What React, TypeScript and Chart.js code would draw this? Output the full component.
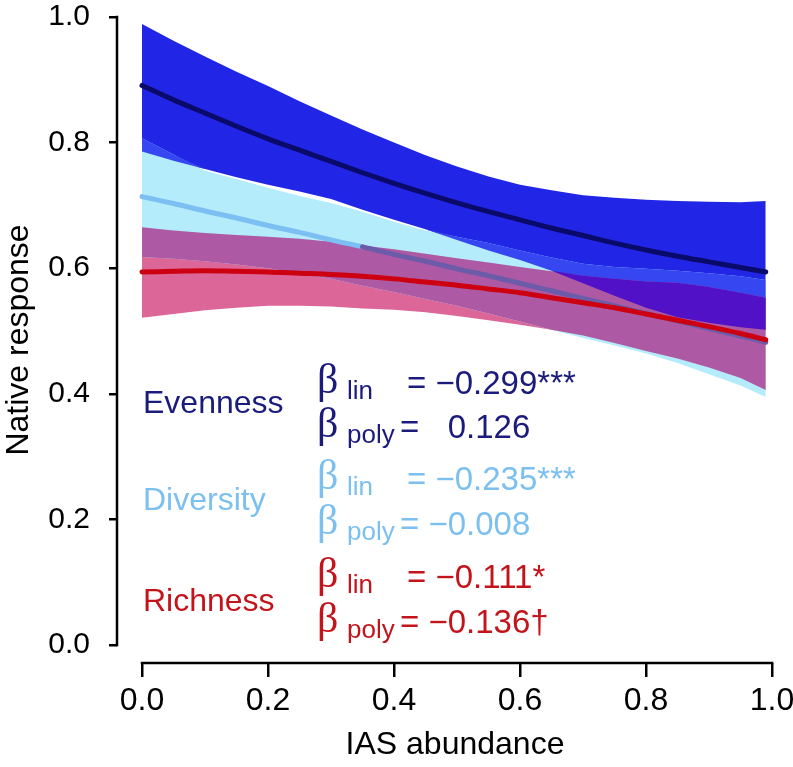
import React, { useEffect, useRef } from "react";
import { Chart, registerables } from "chart.js";

Chart.register(...registerables);

// ---------------- data ----------------
const X_GRID = [0, 0.05, 0.1, 0.15, 0.2, 0.25, 0.3, 0.35, 0.4, 0.45, 0.5, 0.55, 0.6, 0.65, 0.7, 0.75, 0.8, 0.85, 0.9, 0.95, 0.99];

const EVENNESS_FIT = [0.891, 0.868, 0.847, 0.826, 0.806, 0.788, 0.770, 0.752, 0.735, 0.719, 0.704, 0.690, 0.677, 0.664, 0.652, 0.640, 0.629, 0.619, 0.610, 0.601, 0.594];
const EVENNESS_UPPER = [0.989, 0.962, 0.937, 0.913, 0.890, 0.866, 0.843, 0.821, 0.800, 0.780, 0.762, 0.746, 0.733, 0.724, 0.716, 0.712, 0.709, 0.707, 0.706, 0.705, 0.707];
const EVENNESS_LOWER = [0.786, 0.771, 0.758, 0.745, 0.733, 0.722, 0.710, 0.693, 0.677, 0.662, 0.645, 0.628, 0.613, 0.596, 0.576, 0.556, 0.537, 0.522, 0.513, 0.506, 0.502];

const DIVERSITY_FIT = [0.714, 0.703, 0.691, 0.680, 0.668, 0.657, 0.645, 0.634, 0.622, 0.611, 0.599, 0.588, 0.576, 0.564, 0.552, 0.540, 0.528, 0.516, 0.504, 0.492, 0.482];
const DIVERSITY_UPPER = [0.807, 0.781, 0.755, 0.742, 0.728, 0.715, 0.704, 0.690, 0.674, 0.660, 0.650, 0.640, 0.628, 0.617, 0.607, 0.602, 0.599, 0.596, 0.592, 0.587, 0.581];
const DIVERSITY_LOWER = [0.618, 0.615, 0.611, 0.606, 0.600, 0.592, 0.583, 0.572, 0.562, 0.551, 0.540, 0.528, 0.515, 0.502, 0.489, 0.477, 0.464, 0.449, 0.431, 0.413, 0.395];

const RICHNESS_FIT = [0.594, 0.595, 0.596, 0.595, 0.594, 0.592, 0.590, 0.587, 0.583, 0.578, 0.573, 0.567, 0.561, 0.553, 0.545, 0.537, 0.527, 0.517, 0.507, 0.496, 0.486];
const RICHNESS_UPPER = [0.665, 0.660, 0.656, 0.653, 0.650, 0.647, 0.642, 0.636, 0.630, 0.623, 0.616, 0.609, 0.602, 0.595, 0.588, 0.583, 0.579, 0.577, 0.570, 0.561, 0.553];
const RICHNESS_LOWER = [0.521, 0.527, 0.533, 0.537, 0.540, 0.540, 0.539, 0.536, 0.534, 0.530, 0.524, 0.517, 0.510, 0.502, 0.493, 0.481, 0.468, 0.456, 0.442, 0.425, 0.406];

const X_TICKS = [0, 0.2, 0.4, 0.6, 0.8, 1.0];
const X_TICK_LABELS = ["0.0", "0.2", "0.4", "0.6", "0.8", "1.0"];
const Y_TICKS = [0, 0.2, 0.4, 0.6, 0.8, 1.0];
const Y_TICK_LABELS = ["0.0", "0.2", "0.4", "0.6", "0.8", "1.0"];

const X_TITLE = "IAS abundance";
const Y_TITLE = "Native response";

const GROUP_NAMES = ["Evenness", "Diversity", "Richness"];
const BETA_LIN = ["\u22120.299***", "\u22120.235***", "\u22120.111*"];
const BETA_POLY = ["0.126", "\u22120.008", "\u22120.136\u2020"];

// ---------------- styles ----------------
const SANS = '"Liberation Sans", Arial, Helvetica, sans-serif';
const SERIF = '"Liberation Serif", "Times New Roman", serif';

const C_EVEN_BAND = "#2126e6";
const C_EVEN_DIV = "#3646f0";
const C_DIV_BAND = "#b4ecfb";
const C_RICH_BAND = "#dd6699";
const C_RICH_DIV = "#ae59a4";
const C_RICH_EVEN = "#5011c7";
const C_EVEN_LINE = "#0a0a6a";
const C_DIV_LINE = "#7cbff2";
const C_DIV_LINE_MUTED = "#6c5ba8";
const C_RICH_LINE = "#cc0010";
const GROUP_TEXT_COLORS = ["#1b1b7e", "#7cc0ef", "#c3141b"];

// annotation layout (pixels)
const LABEL_X = 143;
const LABEL_BASELINES = [413, 510, 611];
const LIN_BASELINES = [394, 490, 588];
const POLY_BASELINES = [438, 535, 633];
const BETA_X = 317;
const SUB_X = 347;
const LIN_EQ_X = 407;
const POLY_EQ_X = 400;

function pts(ys: number[]) {
  return X_GRID.map((x, i) => ({ x, y: ys[i] }));
}
function overlapLow(a: number[], b: number[]) {
  return a.map((v, i) => Math.max(v, b[i]));
}
function overlapHigh(lo: number[], ua: number[], ub: number[]) {
  return lo.map((v, i) => Math.max(v, Math.min(ua[i], ub[i])));
}

const axisLinesPlugin = {
  id: "axisLines",
  afterDraw(chart: any) {
    const { ctx, chartArea, scales } = chart;
    const x = scales.x;
    const y = scales.y;
    ctx.save();
    ctx.strokeStyle = "#000";
    ctx.lineWidth = 2.5;
    ctx.lineCap = "square";
    ctx.beginPath();
    ctx.moveTo(chartArea.left, y.getPixelForValue(Y_TICKS[0]));
    ctx.lineTo(chartArea.left, y.getPixelForValue(Y_TICKS[Y_TICKS.length - 1]));
    ctx.moveTo(x.getPixelForValue(X_TICKS[0]), chartArea.bottom);
    ctx.lineTo(x.getPixelForValue(X_TICKS[X_TICKS.length - 1]), chartArea.bottom);
    ctx.stroke();
    ctx.restore();
  },
};

const annotationPlugin = {
  id: "annotations",
  afterDraw(chart: any) {
    const ctx = chart.ctx;
    ctx.save();
    ctx.textAlign = "left";
    ctx.textBaseline = "alphabetic";
    GROUP_NAMES.forEach((name, g) => {
      ctx.fillStyle = GROUP_TEXT_COLORS[g];
      ctx.font = `32px ${SANS}`;
      ctx.fillText(name, LABEL_X, LABEL_BASELINES[g]);
      const rows = [
        { sub: "lin", val: BETA_LIN[g], y: LIN_BASELINES[g], eqX: LIN_EQ_X },
        { sub: "poly", val: BETA_POLY[g], y: POLY_BASELINES[g], eqX: POLY_EQ_X },
      ];
      rows.forEach((r) => {
        ctx.font = `42px ${SERIF}`;
        ctx.fillText("\u03B2", BETA_X, r.y - 1);
        ctx.font = `26px ${SANS}`;
        ctx.fillText(r.sub, SUB_X, r.y + 5);
        ctx.font = `33px ${SANS}`;
        ctx.fillText("=", r.eqX, r.y);
        let vx = r.eqX + ctx.measureText("= ").width;
        if (!r.val.startsWith("\u2212")) vx += ctx.measureText("\u2212").width;
        ctx.fillText(r.val, vx, r.y);
      });
    });
    ctx.restore();
  },
};

export default function App() {
  const canvasRef = useRef<HTMLCanvasElement | null>(null);

  useEffect(() => {
    if (!canvasRef.current) return;

    const edLo = overlapLow(EVENNESS_LOWER, DIVERSITY_LOWER);
    const edHi = overlapHigh(edLo, EVENNESS_UPPER, DIVERSITY_UPPER);
    const rdLo = overlapLow(RICHNESS_LOWER, DIVERSITY_LOWER);
    const rdHi = overlapHigh(rdLo, RICHNESS_UPPER, DIVERSITY_UPPER);
    const erLo = overlapLow(EVENNESS_LOWER, RICHNESS_LOWER);
    const erHi = overlapHigh(erLo, EVENNESS_UPPER, RICHNESS_UPPER);

    const insideRich = (i: number) =>
      DIVERSITY_FIT[i] <= RICHNESS_UPPER[i] && DIVERSITY_FIT[i] >= RICHNESS_LOWER[i];

    const edge = (data: number[]) => ({
      data: pts(data),
      borderWidth: 0,
      borderColor: "rgba(0,0,0,0)",
      backgroundColor: "rgba(0,0,0,0)",
      pointRadius: 0,
      fill: false,
    });
    const band = (data: number[], target: number, color: string) => ({
      data: pts(data),
      borderWidth: 0,
      borderColor: "rgba(0,0,0,0)",
      backgroundColor: color,
      pointRadius: 0,
      fill: target,
    });
    const line = (data: number[], color: string, extra: any = {}) => ({
      data: pts(data),
      borderWidth: 5,
      borderColor: color,
      pointRadius: 0,
      fill: false,
      cubicInterpolationMode: "monotone",
      borderCapStyle: "round",
      ...extra,
    });

    const list: any[] = [
      edge(EVENNESS_LOWER), // 0
      band(EVENNESS_UPPER, 0, C_EVEN_BAND), // 1
      edge(RICHNESS_LOWER), // 2
      band(RICHNESS_UPPER, 2, C_RICH_BAND), // 3
      edge(DIVERSITY_LOWER), // 4
      band(DIVERSITY_UPPER, 4, C_DIV_BAND), // 5
      edge(edLo), // 6
      band(edHi, 6, C_EVEN_DIV), // 7
      edge(rdLo), // 8
      band(rdHi, 8, C_RICH_DIV), // 9
      line(DIVERSITY_FIT, C_DIV_LINE, {
        segment: {
          borderColor: (c: any) =>
            insideRich(c.p0DataIndex) && insideRich(c.p1DataIndex) ? C_DIV_LINE_MUTED : C_DIV_LINE,
        },
      }), // 10
      edge(erLo), // 11
      band(erHi, 11, C_RICH_EVEN), // 12
      line(EVENNESS_FIT, C_EVEN_LINE), // 13
      line(RICHNESS_FIT, C_RICH_LINE), // 14
    ];
    const datasets = list.map((d, i) => ({ ...d, order: 100 - i }));

    const chart = new Chart(canvasRef.current, {
      type: "line",
      data: { datasets },
      plugins: [axisLinesPlugin, annotationPlugin],
      options: {
        animation: false,
        responsive: false,
        events: [],
        layout: { padding: { top: 17, left: 0, right: 0, bottom: 0 } },
        plugins: {
          legend: { display: false },
          tooltip: { enabled: false },
          title: { display: false },
        },
        scales: {
          x: {
            type: "linear",
            min: -0.0397,
            max: 1.0333,
            afterBuildTicks: (s: any) => {
              s.ticks = X_TICKS.map((v) => ({ value: v }));
            },
            afterFit: (s: any) => {
              s.height = 104;
              s.paddingLeft = 0;
              s.paddingRight = 0;
            },
            border: { display: false },
            grid: {
              display: true,
              drawOnChartArea: false,
              drawTicks: true,
              tickLength: 14,
              color: "#000",
              lineWidth: 2.5,
            },
            ticks: {
              color: "#000",
              padding: 5,
              maxRotation: 0,
              autoSkip: false,
              font: { family: SANS, size: 32 },
              callback: (v: any) => {
                const i = X_TICKS.findIndex((t) => Math.abs(t - Number(v)) < 1e-9);
                return i >= 0 ? X_TICK_LABELS[i] : "";
              },
            },
            title: {
              display: true,
              text: X_TITLE,
              color: "#000",
              font: { family: SANS, size: 32 },
              padding: { top: 0, bottom: 3 },
            },
          },
          y: {
            type: "linear",
            min: -0.0287,
            max: 1.0,
            afterBuildTicks: (s: any) => {
              s.ticks = Y_TICKS.map((v) => ({ value: v }));
            },
            afterFit: (s: any) => {
              s.width = 117;
              s.paddingTop = 0;
              s.paddingBottom = 0;
            },
            border: { display: false },
            grid: {
              display: true,
              drawOnChartArea: false,
              drawTicks: true,
              tickLength: 8,
              color: "#000",
              lineWidth: 2.5,
            },
            ticks: {
              color: "#000",
              padding: 19,
              autoSkip: false,
              font: { family: SANS, size: 30 },
              callback: (v: any) => {
                const i = Y_TICKS.findIndex((t) => Math.abs(t - Number(v)) < 1e-9);
                return i >= 0 ? Y_TICK_LABELS[i] : "";
              },
            },
            title: {
              display: true,
              text: Y_TITLE,
              color: "#000",
              font: { family: SANS, size: 32 },
              padding: { top: 0, bottom: 0 },
            },
          },
        },
      } as any,
    });

    return () => chart.destroy();
  }, []);

  return (
    <div style={{ position: "absolute", left: 0, top: 0, width: 793, height: 767, background: "#fff" }}>
      <canvas ref={canvasRef} width={793} height={767} />
    </div>
  );
}
